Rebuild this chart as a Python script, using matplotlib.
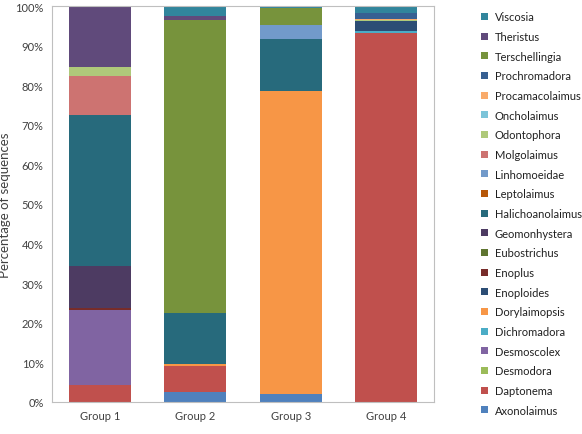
import numpy as np
import matplotlib.pyplot as plt
from matplotlib.patches import Patch

plt.rcParams['font.family'] = ['Lato', 'DejaVu Sans']

groups = ['Group 1', 'Group 2', 'Group 3', 'Group 4']

# genera in stacking order (bottom to top)
genera = ['Axonolaimus', 'Daptonema', 'Desmodora', 'Desmoscolex', 'Dichromadora',
          'Dorylaimopsis', 'Enoploides', 'Enoplus', 'Eubostrichus', 'Geomonhystera',
          'Halichoanolaimus', 'Leptolaimus', 'Linhomoeidae', 'Molgolaimus',
          'Odontophora', 'Oncholaimus', 'Procamacolaimus', 'Prochromadora',
          'Terschellingia', 'Theristus', 'Viscosia']

# percentages per group (Group 1..4)
axonolaimus      = [0.0, 2.4, 1.9, 0.0]
daptonema        = [4.4, 6.7, 0.0, 93.3]
desmodora        = [0.0, 0.0, 0.0, 0.0]
desmoscolex      = [18.9, 0.0, 0.0, 0.0]
dichromadora     = [0.0, 0.0, 0.0, 0.4]
dorylaimopsis    = [0.0, 0.6, 76.6, 0.0]
enoploides       = [0.0, 0.0, 0.0, 2.5]
enoplus          = [0.4, 0.0, 0.0, 0.0]
eubostrichus     = [0.0, 0.0, 0.0, 0.0]
geomonhystera    = [10.6, 0.0, 0.0, 0.0]
halichoanolaimus = [38.2, 12.8, 13.2, 0.0]
leptolaimus      = [0.0, 0.0, 0.0, 0.0]
linhomoeidae     = [0.0, 0.0, 3.5, 0.0]
molgolaimus      = [9.8, 0.0, 0.0, 0.0]
odontophora      = [2.2, 0.0, 0.0, 0.3]
oncholaimus      = [0.0, 0.0, 0.0, 0.0]
procamacolaimus  = [0.0, 0.0, 0.0, 0.3]
prochromadora    = [0.0, 0.0, 0.0, 1.5]
terschellingia   = [0.0, 73.9, 4.2, 0.0]
theristus        = [15.5, 1.0, 0.0, 0.0]
viscosia         = [0.0, 2.6, 0.6, 1.7]

values = [axonolaimus, daptonema, desmodora, desmoscolex, dichromadora,
          dorylaimopsis, enoploides, enoplus, eubostrichus, geomonhystera,
          halichoanolaimus, leptolaimus, linhomoeidae, molgolaimus,
          odontophora, oncholaimus, procamacolaimus, prochromadora,
          terschellingia, theristus, viscosia]

colors = ['#4F81BD', '#C0504D', '#9BBB59', '#8064A2', '#4BACC6',
          '#F79646', '#2C4D75', '#772C2A', '#5F7530', '#4D3B62',
          '#276A7C', '#B65708', '#729ACA', '#CD7371',
          '#AFC97A', '#7CC4D9', '#F9AB6B', '#376092',
          '#77933C', '#604A7B', '#31859C']

fig = plt.figure(figsize=(5.82, 4.35), dpi=100)
ax = fig.add_axes([52 / 582, 32 / 435, 382 / 582, 396 / 435])

x = np.arange(len(groups))
bottom = np.zeros(len(groups))
for name, vals, c in zip(genera, values, colors):
    vals = np.array(vals)
    ax.bar(x, vals, bottom=bottom, width=0.65, color=c, label=name)
    bottom += vals

ax.set_xlim(-0.5, 3.5)
ax.set_ylim(0, 100)
ax.set_yticks(np.arange(0, 101, 10))
ax.set_yticklabels([f'{v}%' for v in range(0, 101, 10)], fontsize=8, color='#404040')
ax.set_xticks(x)
ax.set_xticklabels(groups, fontsize=8, color='#404040')
ax.tick_params(length=0, pad=6)
ax.set_ylabel('Percentage of sequences', fontsize=9.5, color='#404040', labelpad=3)
for s in ax.spines.values():
    s.set_color('#BFBFBF')
    s.set_linewidth(0.8)

# legend in reverse order, like the original
handles = [Patch(facecolor=c, label=n) for n, c in zip(genera, colors)][::-1]
fig.legend(handles=handles, loc='upper left', bbox_to_anchor=(477 / 582, 1 - 8 / 435),
           frameon=False, fontsize=8, handlelength=0.6, handleheight=0.6,
           handletextpad=0.6, labelspacing=0.78, borderaxespad=0, labelcolor='#202020')

fig.savefig('out.png', dpi=100)
